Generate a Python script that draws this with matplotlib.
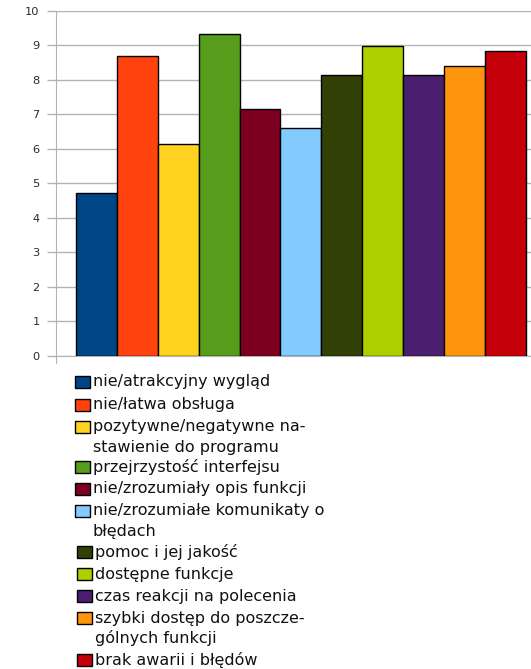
import matplotlib
matplotlib.use("Agg")
import matplotlib.pyplot as plt
from matplotlib.patches import Rectangle

categories = [
    "nie/atrakcyjny wygląd",
    "nie/łatwa obsługa",
    "pozytywne/negatywne na-\nstawienie do programu",
    "przejrzystość interfejsu",
    "nie/zrozumiały opis funkcji",
    "nie/zrozumiałe komunikaty o\nbłędach",
    "pomoc i jej jakość",
    "dostępne funkcje",
    "czas reakcji na polecenia",
    "szybki dostęp do poszcze-\ngólnych funkcji",
    "brak awarii i błędów",
]
values = [4.73, 8.70, 6.13, 9.32, 7.16, 6.59, 8.14, 8.98, 8.14, 8.41, 8.83]
colors = ["#004586", "#ff420e", "#ffd320", "#579d1c", "#7e0021", "#83caff",
          "#314004", "#aecf00", "#4b1f6f", "#ff950e", "#c5000b"]
yticks = list(range(0, 11))

W, H = 531, 669
fig = plt.figure(figsize=(W / 100, H / 100), dpi=100)
ax = fig.add_axes([56 / W, 1 - 355.7 / H, 1 - 56 / W, 345 / H])

x = list(range(len(values)))
ax.bar(x, values, width=1.0, color=colors, edgecolor="black", linewidth=1.0, zorder=3)
ax.set_xlim(-0.99, 10.63)
ax.set_ylim(0, 10)
ax.set_yticks(yticks)
ax.set_xticks([])
ax.grid(axis="y", color="#b3b3b3", linewidth=1.0, zorder=0)
for s in ["top", "right"]:
    ax.spines[s].set_visible(False)
ax.spines["left"].set_color("#b3b3b3")
ax.spines["bottom"].set_color("#b3b3b3")
ax.spines["left"].set_bounds(-0.2, 10)
ax.tick_params(axis="y", length=6.7, width=1, color="#b3b3b3", labelsize=8.2,
               labelcolor="#2a2a2a", pad=5)
for lbl in ax.get_yticklabels():
    lbl.set_fontfamily("DejaVu Sans")

# legend drawn as boxes with labels in figure pixel coordinates
rows = [381.5, 404.5, 427, 467, 489, 511, 552, 574, 596, 618, 660]
line_gap = 20.5
for i, (lab, c, ry) in enumerate(zip(categories, colors, rows)):
    bx = 75 if i < 6 else 77
    fig.patches.append(Rectangle((bx / W, 1 - (ry + 6) / H), 15 / W, 12 / H,
                                 transform=fig.transFigure, facecolor=c,
                                 edgecolor="black", linewidth=1.0))
    for j, part in enumerate(lab.split("\n")):
        fig.text((bx + 18) / W, 1 - (ry + j * line_gap) / H, part,
                 fontsize=11.5, color="#111111", va="center", ha="left",
                 family="DejaVu Sans")

fig.savefig("out.png", dpi=100)
